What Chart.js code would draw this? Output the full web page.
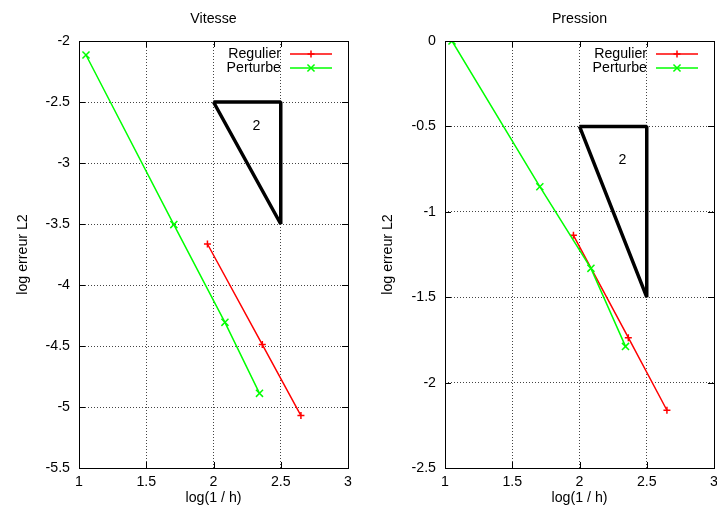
<!DOCTYPE html>
<html>
<head>
<meta charset="utf-8">
<script src="https://cdn.jsdelivr.net/npm/chart.js@4.4.1/dist/chart.umd.min.js"></script>
<style>
html, body { margin: 0; padding: 0; background: #fff; overflow: hidden; width: 717px; height: 517px; }
.panel { position: absolute; top: 0; }
</style>
</head>
<body>
<div class="panel" style="left:0"><canvas id="vitesse" width="360" height="517"></canvas></div>
<div class="panel" style="left:357px"><canvas id="pression" width="370" height="517"></canvas></div>
<script>
// log(1/h) for each mesh
const hRegulier = [1.955, 2.363, 2.65]
const hPerturbe = [1.052, 1.705, 2.085, 2.342]

// log of the L2 error, velocity
const vitesseRegulier = [-3.664, -4.488, -5.07]
const vitessePerturbe = [-2.115, -3.505, -4.306, -4.888]

// log of the L2 error, pressure
const pressionRegulier = [-1.138, -1.737, -2.162]
const pressionPerturbe = [0, -0.853, -1.331, -1.788]

// slope 2 reference triangles
const triangleX = [2, 2.5, 2.5, 2]
const vitesseTriangleY = [-2.5, -2.5, -3.5, -2.5]
const pressionTriangleY = [-0.5, -0.5, -1.5, -0.5]
const slopeText = "2"
const slopeTextX = 2.32
const vitesseSlopeTextY = -2.7
const pressionSlopeTextY = -0.7

const xTicks = [1, 1.5, 2, 2.5, 3]
const vitesseYTicks = [-5.5, -5, -4.5, -4, -3.5, -3, -2.5, -2]
const pressionYTicks = [-2.5, -2, -1.5, -1, -0.5, 0]

const FONT = "'Liberation Sans', Arial, sans-serif"
const fontSpec = {family: FONT, size: 14.2}
Chart.defaults.font.family = FONT
Chart.defaults.color = '#000'

function drawMarker(ctx, style, x, y, r){
    ctx.beginPath()
    if (style === 'cross'){
        ctx.moveTo(x - r, y); ctx.lineTo(x + r, y)
        ctx.moveTo(x, y - r); ctx.lineTo(x, y + r)
    } else {
        const d = r * Math.SQRT1_2
        ctx.moveTo(x - d, y - d); ctx.lineTo(x + d, y + d)
        ctx.moveTo(x - d, y + d); ctx.lineTo(x + d, y - d)
    }
    ctx.stroke()
}

// frame, inward ticks, title, key and slope text in the gnuplot manner
const gnuplotLook = {
    id: 'gnuplotLook',
    afterDraw(chart, args, opts){
        const {ctx, chartArea: a, scales} = chart
        ctx.save()
        ctx.strokeStyle = '#000'
        ctx.lineWidth = 1
        ctx.strokeRect(a.left + 0.5, a.top + 0.5, a.right - a.left, a.bottom - a.top)

        ctx.beginPath()
        xTicks.forEach(v => {
            const px = Math.round(scales.x.getPixelForValue(v)) + 0.5
            ctx.moveTo(px, a.bottom); ctx.lineTo(px, a.bottom - 6)
            ctx.moveTo(px, a.top); ctx.lineTo(px, a.top + 6)
        })
        opts.yTicks.forEach(v => {
            const py = Math.round(scales.y.getPixelForValue(v)) + 0.5
            ctx.moveTo(a.left, py); ctx.lineTo(a.left + 6, py)
            ctx.moveTo(a.right, py); ctx.lineTo(a.right - 6, py)
        })
        ctx.stroke()

        ctx.fillStyle = '#000'
        ctx.font = `${fontSpec.size}px ${FONT}`
        ctx.textBaseline = 'middle'
        ctx.textAlign = 'center'
        ctx.fillText(opts.title, (a.left + a.right) / 2, 19)
        ctx.fillText(slopeText, scales.x.getPixelForValue(slopeTextX), scales.y.getPixelForValue(opts.slopeY))

        // key
        const keyed = chart.data.datasets.filter(ds => ds.label)
        keyed.forEach((ds, i) => {
            const y = a.top + 13 + i * 14
            ctx.textAlign = 'right'
            ctx.fillText(ds.label, a.right - 67, y)
            ctx.strokeStyle = ds.borderColor
            ctx.lineWidth = ds.borderWidth
            ctx.beginPath()
            ctx.moveTo(a.right - 58, y); ctx.lineTo(a.right - 16, y)
            ctx.stroke()
            drawMarker(ctx, ds.pointStyle, a.right - 37, y, ds.pointRadius)
        })
        ctx.restore()
    }
}

function series(xs, ys){
    return xs.map((x, i) => ({x: x, y: ys[i]}))
}

function makePanel(canvasId, title, regulier, perturbe, triangleY, slopeY, yTicks, yMin, yMax, padLeft, yWidth, padRight){
    return new Chart(document.getElementById(canvasId), {
        type: 'line',
        data: {
            datasets: [{
                label: 'Regulier',
                data: series(hRegulier, regulier),
                borderColor: '#ff0000',
                borderWidth: 1.5,
                pointStyle: 'cross',
                pointRadius: 3.5,
                pointBorderWidth: 1.5,
                order: 1
            }, {
                label: 'Perturbe',
                data: series(hPerturbe, perturbe),
                borderColor: '#00ff00',
                borderWidth: 1.5,
                pointStyle: 'crossRot',
                pointRadius: 5,
                pointBorderWidth: 1.5,
                order: 0
            }, {
                label: '',
                data: series(triangleX, triangleY),
                borderColor: '#000',
                borderWidth: 3.5,
                borderJoinStyle: 'bevel',
                pointRadius: 0,
                order: 2
            }]
        },
        options: {
            responsive: false,
            animation: false,
            events: [],
            layout: {padding: {left: padLeft, right: padRight, top: 41, bottom: 6}},
            plugins: {
                legend: {display: false},
                tooltip: {enabled: false},
                gnuplotLook: {title: title, slopeY: slopeY, yTicks: yTicks}
            },
            scales: {
                x: {
                    type: 'linear',
                    min: 1,
                    max: 3,
                    afterBuildTicks: s => { s.ticks = xTicks.map(v => ({value: v})) },
                    afterFit: s => { s.height = 43 },
                    grid: {color: '#444', drawTicks: false},
                    border: {display: false, dash: [1, 2]},
                    ticks: {padding: 6, font: fontSpec, color: '#000', callback: v => String(v)},
                    title: {display: true, text: 'log(1 / h)', font: fontSpec, color: '#000'}
                },
                y: {
                    type: 'linear',
                    min: yMin,
                    max: yMax,
                    afterBuildTicks: s => { s.ticks = yTicks.map(v => ({value: v})) },
                    afterFit: s => { s.width = yWidth },
                    grid: {color: '#444', drawTicks: false},
                    border: {display: false, dash: [1, 2]},
                    ticks: {padding: 9, font: fontSpec, color: '#000', callback: v => String(v)},
                    title: {display: true, text: 'log erreur L2', font: fontSpec, color: '#000'}
                }
            }
        },
        plugins: [gnuplotLook]
    })
}

makePanel('vitesse', 'Vitesse', vitesseRegulier, vitessePerturbe, vitesseTriangleY, vitesseSlopeTextY,
    vitesseYTicks, -5.5, -2, 11, 68, 12)
makePanel('pression', 'Pression', pressionRegulier, pressionPerturbe, pressionTriangleY, pressionSlopeTextY,
    pressionYTicks, -2.5, 0, 19, 69, 13)
</script>
</body>
</html>
